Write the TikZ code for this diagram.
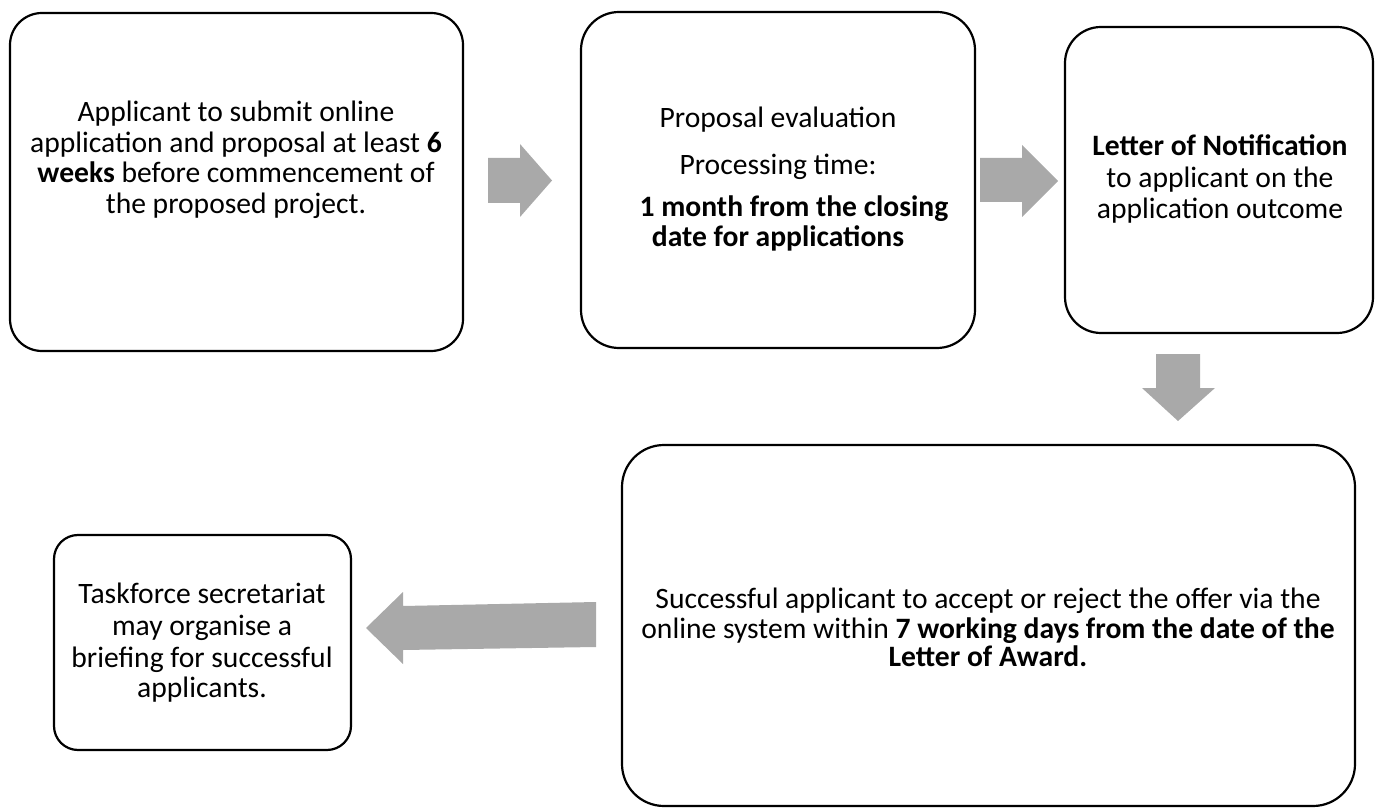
\documentclass[tikz,border=0pt]{standalone}
\usepackage{fontspec}
\setmainfont{Carlito}
\begin{document}
\begin{tikzpicture}[x=1pt,y=-1pt,
  box/.style={draw=black,line width=2.2pt,rounded corners=#1},
  txt/.style={anchor=base,inner sep=0pt,font=\fontsize{29.6}{32}\selectfont},
  blockarrow/.style={fill=arrowgray,draw=none}]
\definecolor{arrowgray}{RGB}{169,169,169}
\useasboundingbox (0,0) rectangle (1376,810);
% boxes
\draw[box=32] (10,13) rectangle (463,351);
\draw[box=38] (581,12) rectangle (975,348);
\draw[box=36] (1065,27) rectangle (1373,333);
\draw[box=42] (622,445) rectangle (1355,806);
\draw[box=24] (54,535) rectangle (351,750);
% box 1 text
\node[txt] (t1a) at (236,122) {Applicant to submit online};
\node[txt] (t1b) at (236,152.5) {application and proposal at least \textbf{6}};
\node[txt] (t1c) at (236,183) {\textbf{weeks} before commencement of};
\node[txt] (t1d) at (236,213.5) {the proposed project.};
% box 2 text
\node[txt] (t2a) at (778,128) {Proposal evaluation};
\node[txt] (t2b) at (778,175) {Processing time:};
\node[txt] (t2c) at (794,217) {\textbf{1 month from the closing}};
\node[txt] (t2d) at (778,247) {\textbf{date for applications}};
% box 3 text
\node[txt] (t3a) at (1220,156) {\textbf{Letter of Notification}};
\node[txt] (t3b) at (1220,188) {to applicant on the};
\node[txt] (t3c) at (1220,219) {application outcome};
% box 4 text
\node[txt] (t4a) at (988,608) {Successful applicant to accept or reject the offer via the};
\node[txt] (t4b) at (988,638) {online system within \textbf{7 working days from the date of the}};
\node[txt] (t4c) at (988,666) {\textbf{Letter of Award.}};
% box 5 text
\node[txt] (t5a) at (202,603) {Taskforce secretariat};
\node[txt] (t5b) at (202,635) {may organise a};
\node[txt] (t5c) at (202,667) {briefing for successful};
\node[txt] (t5d) at (202,697) {applicants.};
% block arrows
\fill[blockarrow] (488,158) -- (520,158) -- (520,144) -- (552,180.5) -- (520,217) -- (520,203) -- (488,203) -- cycle;
\fill[blockarrow] (980,158) -- (1022,158) -- (1022,145) -- (1058,181) -- (1022,217) -- (1022,202) -- (980,202) -- cycle;
\fill[blockarrow] (1156,354) -- (1200,354) -- (1200,388) -- (1215,388) -- (1178,421) -- (1142,388) -- (1156,388) -- cycle;
\fill[blockarrow] (596,602) -- (596,647) -- (403,650) -- (403,664) -- (366,628) -- (403,592) -- (403,606) -- cycle;
\end{tikzpicture}
\end{document}
